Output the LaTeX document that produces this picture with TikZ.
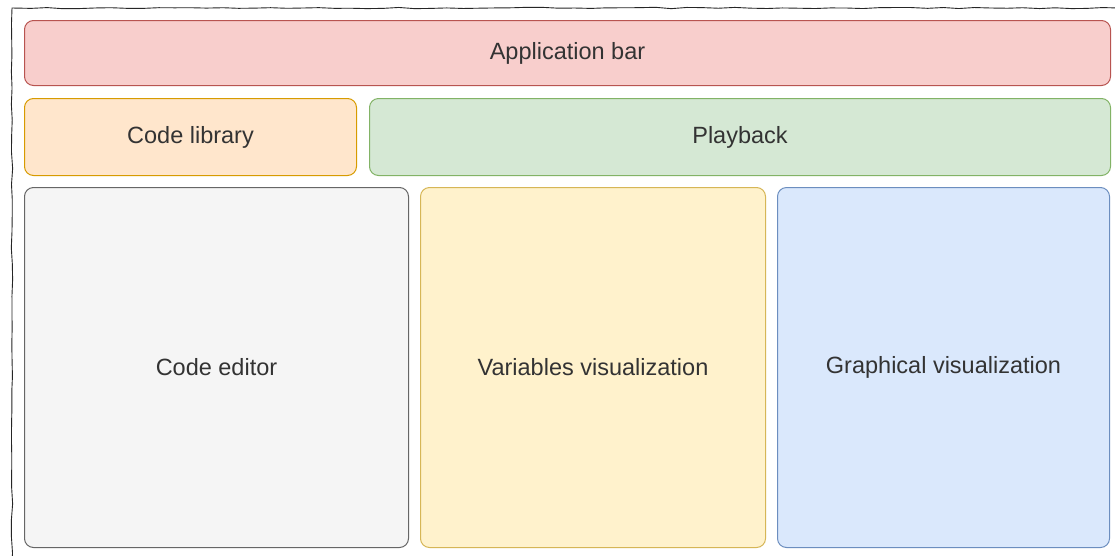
\documentclass[tikz,border=0pt]{standalone}
\usepackage{fontspec}
\setmainfont{Liberation Sans}
\usetikzlibrary{decorations.pathmorphing}
\definecolor{barfill}{HTML}{F8CECC}\definecolor{barline}{HTML}{B85450}
\definecolor{libfill}{HTML}{FFE6CC}\definecolor{libline}{HTML}{D79B00}
\definecolor{playfill}{HTML}{D5E8D4}\definecolor{playline}{HTML}{82B366}
\definecolor{edfill}{HTML}{F5F5F5}\definecolor{edline}{HTML}{666666}
\definecolor{varfill}{HTML}{FFF2CC}\definecolor{varline}{HTML}{D6B656}
\definecolor{gfxfill}{HTML}{DAE8FC}\definecolor{gfxline}{HTML}{6C8EBF}
\definecolor{labelgray}{HTML}{333333}
\tikzset{
  sketch/.style={decorate, decoration={random steps, segment length=16pt, amplitude=0.7pt}},
  panel/.style={rounded corners=9pt, line width=1pt, text=labelgray,
    font=\fontsize{23.5}{28}\selectfont, inner sep=0pt, anchor=north west},
}
\begin{document}
\begin{tikzpicture}[x=1pt, y=-1pt]
\useasboundingbox (0,0) rectangle (1115,555);
\fill[white] (0,0) rectangle (1115,555);
% outer frame, cut at the right and bottom
\begin{scope}
  \clip (0,0) rectangle (1115,555);
  \draw[sketch, line width=0.9pt, black!85] (12,8) rectangle (1135,575);
\end{scope}
% top rows
\node[panel, draw=barline, fill=barfill, minimum width=1086pt, minimum height=65pt] (appbar) at (24,20) {Application bar};
\node[panel, draw=libline, fill=libfill, minimum width=332pt, minimum height=77pt] (library) at (24,98) {Code library};
\node[panel, draw=playline, fill=playfill, minimum width=741pt, minimum height=77pt] (playback) at (369,98) {Playback};
% main panels
\node[panel, draw=edline, fill=edfill, minimum width=384pt, minimum height=360pt] (editor) at (24,187) {Code editor};
\node[panel, draw=varline, fill=varfill, minimum width=345pt, minimum height=360pt] (variables) at (420,187) {Variables visualization};
\node[panel, draw=gfxline, fill=gfxfill, minimum width=332pt, minimum height=360pt] (graphical) at (777,187) {Graphical visualization};
\end{tikzpicture}
\end{document}
